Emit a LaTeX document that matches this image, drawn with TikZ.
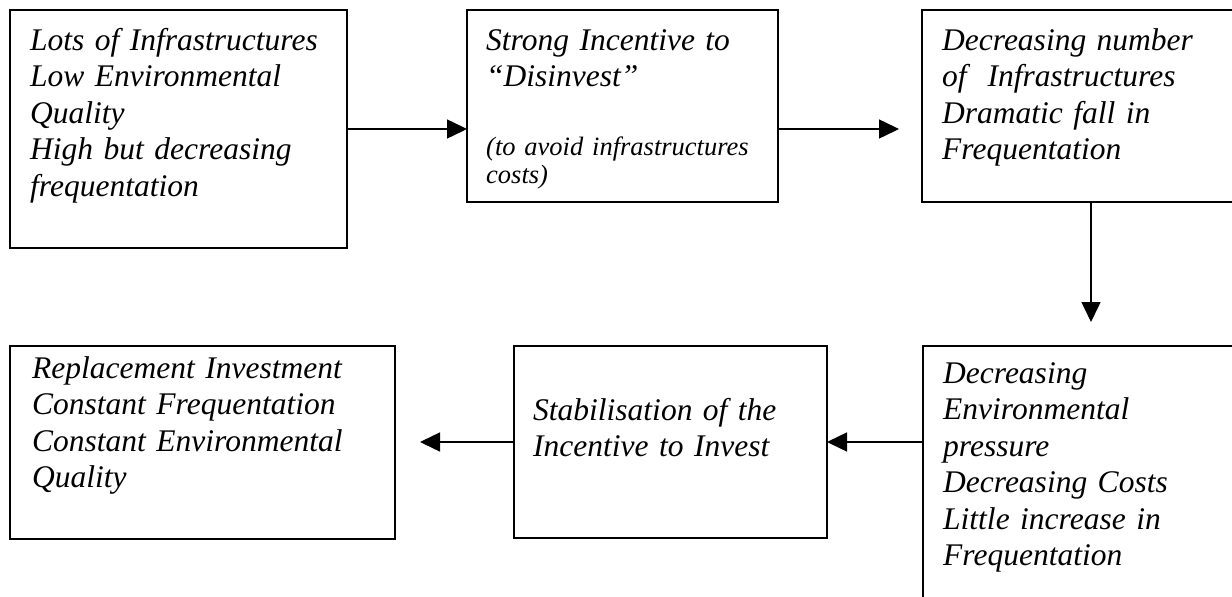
\documentclass[tikz,border=0pt]{standalone}
\usepackage{fontspec}
\setmainfont{Liberation Serif}
\usetikzlibrary{arrows.meta}

\begin{document}
\begin{tikzpicture}[x=1pt,y=-1pt,
  box/.style={draw,line width=1.5pt,anchor=north west,inner sep=0pt,outer sep=0pt},
  boxtext/.style={anchor=base west,inner sep=0pt,text width=420pt,align=left,
    font=\itshape\fontsize{31.5}{36.5}\selectfont},
  notetext/.style={anchor=base west,inner sep=0pt,text width=420pt,align=left,
    font=\itshape\fontsize{26.5}{28.5}\selectfont},
  flow/.style={-{Triangle[length=20pt,width=19pt]},line width=1.5pt}]
\useasboundingbox (0,0) rectangle (1232,597);
\clip (0,0) rectangle (1232,597);

% Draw the boxes (the two on the right run off the page)
\node[box,minimum width=337pt,minimum height=238pt] (lots) at (10,10) {};
\node[box,minimum width=311pt,minimum height=192pt] (disinvest) at (467,10) {};
\node[box,minimum width=338pt,minimum height=192pt] (decrease) at (922,10) {};
\node[box,minimum width=338pt,minimum height=300pt] (pressure) at (923,346) {};
\node[box,minimum width=313pt,minimum height=192pt] (stable) at (514,346) {};
\node[box,minimum width=385pt,minimum height=193pt] (replace) at (10,346) {};

% Text in the boxes
\node[boxtext] (lotstext) at (30,50) {Lots of Infrastructures\\Low Environmental\\Quality\\High but decreasing\\frequentation};
\node[boxtext] (disinvesttext) at (486,50) {Strong Incentive to\\``Disinvest''};
\node[notetext] (disinvestnote) at (486,155) {(to avoid infrastructures\\costs)};
\node[boxtext] (decreasetext) at (942,50) {Decreasing number\\of~ Infrastructures\\Dramatic fall in\\Frequentation};
\node[boxtext] (pressuretext) at (943,383) {Decreasing\\Environmental\\pressure\\Decreasing Costs\\Little increase in\\Frequentation};
\node[boxtext] (stabletext) at (533,420) {Stabilisation of the\\Incentive to Invest};
\node[boxtext] (replacetext) at (32,378) {Replacement Investment\\Constant Frequentation\\Constant Environmental\\Quality};

% Arrows between the boxes
\draw[flow] (lots.east) -- (lots.east -| disinvest.west);
\draw[flow,shorten >=23pt] (disinvest.east |- lots.east) -- (decrease.west |- lots.east);
\draw[flow,shorten >=24pt] (decrease.south) -- (decrease.south |- pressure.north);
\draw[flow] (pressure.west |- stable.east) -- (stable.east);
\draw[flow,shorten >=25pt] (stable.west) -- (stable.west -| replace.east);

\end{tikzpicture}
\end{document}
